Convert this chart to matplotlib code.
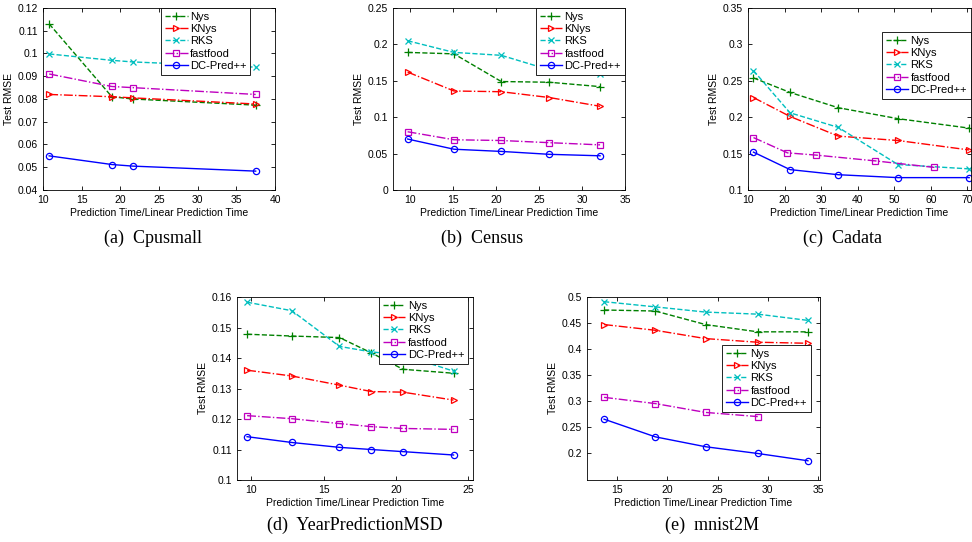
import matplotlib
matplotlib.use('Agg')
import matplotlib.pyplot as plt

plt.rcParams['font.family'] = ['Liberation Sans', 'DejaVu Sans']

W, H = 972, 542

# (a) Cpusmall
cpu_x = [10.8, 18.9, 21.6, 37.5]
cpu_nys = [0.113, 0.081, 0.080, 0.0773]
cpu_knys = [0.082, 0.081, 0.0805, 0.0778]
cpu_rks = [0.0998, 0.097, 0.0963, 0.094]
cpu_fastfood = [0.091, 0.0855, 0.085, 0.082]
cpu_dc = [0.055, 0.0512, 0.0505, 0.0483]

# (b) Census
cen_x = [9.7, 15.1, 20.6, 26.2, 32.1]
cen_nys = [0.189, 0.187, 0.149, 0.148, 0.142]
cen_knys = [0.162, 0.136, 0.135, 0.127, 0.115]
cen_rks = [0.205, 0.189, 0.185, 0.165, 0.160]
cen_fastfood = [0.080, 0.069, 0.068, 0.065, 0.062]
cen_dc = [0.070, 0.056, 0.053, 0.049, 0.047]

# (c) Cadata
cad_x = [11.5, 21.5, 34.7, 51.0, 70.5]
cad_ff_x = [11.5, 20.8, 28.5, 44.8, 61.0]
cad_nys = [0.254, 0.234, 0.213, 0.198, 0.185]
cad_knys = [0.227, 0.201, 0.174, 0.168, 0.155]
cad_rks = [0.264, 0.206, 0.186, 0.135, 0.129]
cad_fastfood = [0.172, 0.151, 0.148, 0.140, 0.131]
cad_dc = [0.152, 0.128, 0.121, 0.117, 0.117]

# (d) YearPredictionMSD
yp_x = [9.7, 12.8, 16.1, 18.3, 20.5, 24.0]
yp_nys = [0.1478, 0.1472, 0.1467, 0.1417, 0.1363, 0.1350]
yp_knys = [0.1360, 0.1341, 0.1311, 0.1290, 0.1288, 0.1262]
yp_rks = [0.1583, 0.1555, 0.1438, 0.1420, 0.1410, 0.1357]
yp_fastfood = [0.1211, 0.1201, 0.1185, 0.1175, 0.1169, 0.1166]
yp_dc = [0.1142, 0.1123, 0.1107, 0.1100, 0.1093, 0.1082]

# (e) mnist2M
mn_x = [13.7, 18.8, 23.8, 29.0, 34.0]
mn_ff_x = [13.7, 18.8, 23.8, 29.0]
mn_nys = [0.475, 0.473, 0.447, 0.433, 0.433]
mn_knys = [0.447, 0.436, 0.420, 0.413, 0.411]
mn_rks = [0.491, 0.481, 0.471, 0.467, 0.455]
mn_fastfood = [0.307, 0.295, 0.278, 0.270]
mn_dc = [0.265, 0.231, 0.212, 0.199, 0.185]

labels = ['Nys', 'KNys', 'RKS', 'fastfood', 'DC-Pred++']
styles = [
    dict(color=(0, 0.5, 0), ls='--', marker='+', ms=6),
    dict(color='red', ls='-.', marker='>', ms=5, mfc='none'),
    dict(color=(0, 0.75, 0.75), ls='--', marker='x', ms=4),
    dict(color=(0.75, 0, 0.75), ls='-.', marker='s', ms=4, mfc='none'),
    dict(color='blue', ls='-', marker='o', ms=4.5, mfc='none'),
]

panels = [
    dict(box=(43, 8, 275, 190), xs=[cpu_x] * 5,
         ys=[cpu_nys, cpu_knys, cpu_rks, cpu_fastfood, cpu_dc],
         xlim=(10, 40), xt=[10, 15, 20, 25, 30, 35, 40],
         ylim=(0.04, 0.12), yt=[0.04, 0.05, 0.06, 0.07, 0.08, 0.09, 0.1, 0.11, 0.12],
         leg=(0.893, 1.0), cap='(a)  Cpusmall', capx=153, capy=238),
    dict(box=(393, 8, 625, 190), xs=[cen_x] * 5,
         ys=[cen_nys, cen_knys, cen_rks, cen_fastfood, cen_dc],
         xlim=(8, 35), xt=[10, 15, 20, 25, 30, 35],
         ylim=(0, 0.25), yt=[0, 0.05, 0.1, 0.15, 0.2, 0.25],
         leg=(1.0, 1.0), cap='(b)  Census', capx=482, capy=238),
    dict(box=(748, 8, 971, 190), xs=[cad_x, cad_x, cad_x, cad_ff_x, cad_x],
         ys=[cad_nys, cad_knys, cad_rks, cad_fastfood, cad_dc],
         xlim=(10, 71), xt=[10, 20, 30, 40, 50, 60, 70],
         ylim=(0.1, 0.35), yt=[0.1, 0.15, 0.2, 0.25, 0.3, 0.35],
         leg=(1.0, 0.868), cap='(c)  Cadata', capx=842, capy=238),
    dict(box=(237, 297, 473, 480), xs=[yp_x] * 5,
         ys=[yp_nys, yp_knys, yp_rks, yp_fastfood, yp_dc],
         xlim=(9, 25.35), xt=[10, 15, 20, 25],
         ylim=(0.1, 0.16), yt=[0.1, 0.11, 0.12, 0.13, 0.14, 0.15, 0.16],
         leg=(0.979, 1.0), cap='(d)  YearPredictionMSD', capx=355, capy=525),
    dict(box=(587, 297, 820, 480), xs=[mn_x, mn_x, mn_x, mn_ff_x, mn_x],
         ys=[mn_nys, mn_knys, mn_rks, mn_fastfood, mn_dc],
         xlim=(12, 35.2), xt=[15, 20, 25, 30, 35],
         ylim=(0.148, 0.5), yt=[0.2, 0.25, 0.3, 0.35, 0.4, 0.45, 0.5],
         leg=(0.961, 0.738), cap='(e)  mnist2M', capx=712, capy=525),
]

fig = plt.figure(figsize=(W / 100, H / 100), dpi=100)

for p in panels:
    x0, y0, x1, y1 = p['box']
    ax = fig.add_axes([x0 / W, 1 - y1 / H, (x1 - x0) / W, (y1 - y0) / H])
    for xv, yv, lab, st in zip(p['xs'], p['ys'], labels, styles):
        ax.plot(xv, yv, label=lab, lw=1.0, mew=0.9, **st)
    ax.set_xlim(*p['xlim'])
    ax.set_ylim(*p['ylim'])
    ax.set_xticks(p['xt'])
    ax.set_yticks(p['yt'])
    ax.set_yticklabels(['%g' % v for v in p['yt']])
    ax.tick_params(direction='in', top=True, right=True, labelsize=7.5, length=3, width=0.6)
    for s in ax.spines.values():
        s.set_linewidth(0.6)
    ax.set_xlabel('Prediction Time/Linear Prediction Time', fontsize=7.5, labelpad=2)
    ax.set_ylabel('Test RMSE', fontsize=7.5, labelpad=3)
    leg = ax.legend(loc='upper right', bbox_to_anchor=p['leg'], fontsize=8,
                    handlelength=2.0, handletextpad=0.2, borderpad=0.35,
                    labelspacing=0.2, fancybox=False, framealpha=1,
                    edgecolor='black', borderaxespad=0)
    leg.get_frame().set_linewidth(0.6)
    fig.text(p['capx'] / W, 1 - p['capy'] / H, p['cap'], ha='center', va='center',
             fontsize=13, family=['Liberation Serif', 'DejaVu Serif'])

fig.savefig('out.png', dpi=100)
